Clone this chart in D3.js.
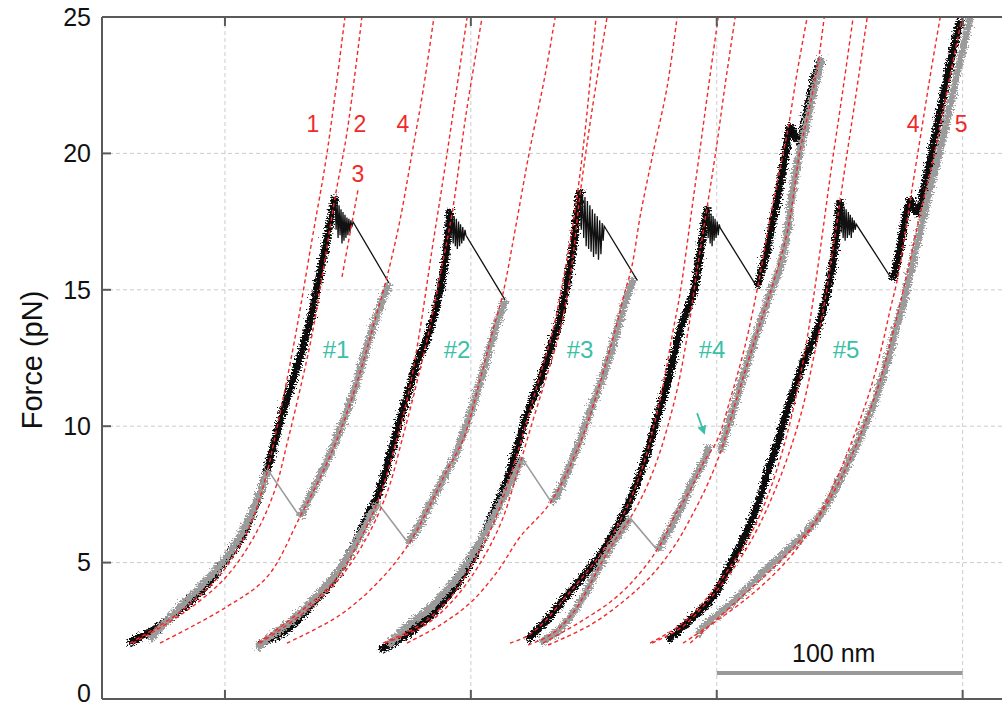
<!DOCTYPE html>
<html>
<head>
<meta charset="utf-8">
<script src="https://cdn.jsdelivr.net/npm/d3@7"></script>
<style>
  body { margin: 0; background: #fff; }
  text { font-family: "Liberation Sans", Arial, Helvetica, sans-serif; }
</style>
</head>
<body>
<script>
// axis ticks
const yTicks = [0, 5, 10, 15, 20, 25];
const xTicks = [0, 100, 200, 300];

// ---- cycle #1 (extension nm, force pN) ----
const pull1 = [[-39.5,2.05],[-30.5,2.46],[-20.3,3.12],[-10.2,3.92],[-1.2,4.88],[6.1,5.83],[11.8,6.93],[16.3,8.10],[19.9,9.31],[23.6,10.52],[27.7,11.69],[31.3,12.79],[34.6,13.89],[37.8,15.25],[41.1,16.72],[44.8,18.40]];
const rip1 = [[44.8,18.40],[45.2,17.2],[45.6,18.25],[46.0,16.9],[46.4,18.1],[46.8,17.0],[47.2,17.95],[47.6,16.7],[48.0,17.85],[48.4,16.8],[48.8,17.75],[49.2,16.9],[49.6,17.65],[50.0,17.0],[50.4,17.6],[50.8,17.1],[51.2,17.55],[51.6,17.3],[52.1,17.49],[66.7,15.25]];
const relax1 = [[66.7,15.25],[61.8,14.08],[57.4,12.79],[52.5,11.33],[46.8,9.86],[41.1,8.65],[35.8,7.66],[30.5,6.67]];
const jump1 = [[30.5,6.67],[17.5,8.39]];
const relax1b = [[17.5,8.39],[13.4,7.37],[8.5,6.38],[1.2,5.28],[-8.1,4.29],[-18.3,3.37],[-26.4,2.60],[-30.5,2.16]];
const wlc1 = [
  [[-38.6,2.05],[-18.3,3.19],[-2.0,4.55],[9.4,6.20],[16.3,8.03],[21.2,9.97],[25.6,11.88],[29.3,13.64],[35.4,16.83],[41.5,20.01],[48.8,25]],
  [[-37.4,2.05],[-16.3,3.19],[0.4,4.47],[12.2,6.01],[20.3,7.66],[25.6,9.49],[30.5,11.33],[35.4,13.34],[40.3,15.91],[44.8,18.40],[49.6,20.75],[55.7,25]],
  [[47.6,15.47],[54.1,18.66]],
  [[-26.4,2.05],[0,3.34],[17.1,4.47],[30.5,6.67],[41.5,8.65],[49.6,10.48],[56.1,12.32],[61.0,13.89],[65.9,15.47],[71.2,17.56],[76.1,20.01],[80.6,22.32],[85.0,25]]
];

// ---- cycle #2 ----
const pull2 = [[13.4,1.98],[25.2,2.53],[35.8,3.52],[43.9,4.36],[52.1,5.57],[57.8,6.67],[62.2,7.48],[66.3,8.65],[70.0,9.86],[74.0,11.07],[78.1,12.32],[83.4,13.53],[87.5,14.99],[89.9,16.35],[91.5,17.93]];
const rip2 = [[91.5,17.93],[91.9,16.9],[92.4,17.8],[92.8,16.7],[93.2,17.7],[93.7,16.6],[94.1,17.6],[94.5,16.5],[95.0,17.5],[95.4,16.6],[95.8,17.4],[96.3,16.7],[96.7,17.3],[97.1,16.8],[97.6,17.2],[98.0,17.0],[113.9,14.63]];
const relax2 = [[113.9,14.63],[109.8,13.53],[104.6,11.88],[98.9,10.23],[93.6,8.94],[87.5,7.84],[82.2,6.93],[78.5,6.27],[74.5,5.72]];
const jump2 = [[74.5,5.72],[62.2,7.18]];
const relax2b = [[62.2,7.18],[58.2,6.56],[52.9,5.65],[44.8,4.55],[35.8,3.63],[26.4,2.82],[18.3,2.27],[13.0,1.87]];
const wlc2 = [
  [[13.4,2.05],[30.5,3.19],[44.8,4.36],[54.9,5.83],[63.1,7.48],[69.2,9.31],[74.5,11.14],[79.3,13.53],[84.2,16.46],[89.5,19.50],[98.5,25]],
  [[14.2,2.05],[32.5,3.19],[46.8,4.44],[58.2,6.01],[66.3,7.66],[72.0,9.49],[77.3,11.33],[82.6,13.34],[87.5,15.54],[92.4,17.82],[98.0,21.41],[104.6,25]],
  [[25.2,2.05],[46.8,3.08],[63.1,4.36],[74.5,5.65],[83.4,7.11],[90.3,8.39],[96.8,9.49],[103.7,11.69],[109.0,13.53],[113.1,14.88],[118.0,17.19],[123.7,20.01],[130.2,22.87],[134.3,25]]
];

// ---- cycle #3 ----
const pull3 = [[63.1,1.80],[76.5,2.53],[90.3,3.74],[99.7,4.99],[107.8,6.56],[114.7,8.03],[118.8,9.24],[122.9,10.48],[128.2,11.69],[133.4,13.16],[136.3,13.97],[139.1,15.25],[141.6,16.57],[144.4,18.66]];
const rip3 = [[144.4,18.66],[144.9,17.2],[145.4,18.5],[145.9,16.9],[146.4,18.4],[146.9,16.6],[147.4,18.25],[147.9,16.5],[148.4,18.1],[148.9,16.4],[149.4,17.95],[149.9,16.2],[150.4,17.8],[150.9,16.3],[151.4,17.7],[151.9,16.1],[152.4,17.55],[152.9,16.3],[153.4,17.45],[153.8,16.8],[154.2,17.34],[167.6,15.36]];
const relax3 = [[166.4,15.43],[163.1,14.63],[159.5,13.53],[154.6,12.06],[149.7,10.85],[144.4,9.49],[139.5,8.39],[136.3,7.73],[133.0,7.18]];
const jump3 = [[133.0,7.18],[120.8,8.83]];
const relax3b = [[120.8,8.83],[116.8,8.03],[110.7,6.93],[102.9,5.65],[93.6,4.36],[83.4,3.34],[73.2,2.60],[66.3,1.98]];
const wlc3 = [
  [[64.3,2.05],[79.3,2.71],[91.5,3.70],[101.7,5.10],[109.8,6.56],[116.8,8.39],[122.9,10.23],[128.2,11.88],[133.4,13.53],[138.3,15.73],[142.4,17.93],[146.5,20.86],[150.9,25]],
  [[65.1,2.05],[81.4,2.71],[93.6,3.70],[104.6,5.10],[112.7,6.56],[119.2,8.39],[125.3,10.23],[131.0,11.88],[136.3,13.53],[140.8,15.73],[144.4,18.48],[149.3,21.59],[155.4,25]],
  [[74.0,2.05],[87.5,2.71],[99.7,3.52],[110.7,4.66],[120.0,5.94],[132.2,7.18],[144.4,9.38],[151.7,11.33],[158.7,13.53],[162.3,14.81],[165.6,15.91],[168.8,17.67],[174.1,20.01],[179.8,22.43],[183.9,25]]
];

// ---- cycle #4 ----
const pull4 = [[122.9,2.16],[130.2,2.82],[137.5,3.63],[144.4,4.36],[152.6,5.28],[158.7,6.20],[164.8,7.29],[170.1,8.58],[174.9,10.04],[180.2,11.69],[185.1,13.53],[190.4,14.88],[193.2,16.35],[196.1,18.04]];
const rip4 = [[196.1,18.04],[196.5,16.9],[196.9,17.9],[197.3,16.7],[197.7,17.8],[198.1,16.6],[198.5,17.7],[198.9,16.8],[199.3,17.6],[199.7,16.9],[200.2,17.5],[200.6,17.0],[201.0,17.4],[201.4,17.27],[216.4,15.10]];
const pull4b = [[216.4,15.10],[218.5,15.80],[220.5,16.46],[222.5,17.38],[224.6,18.29],[226.2,19.10],[227.8,19.87],[229.9,20.97],[231.9,20.60],[233.9,20.42],[235.6,21.15],[237.2,21.85],[239.2,22.58],[241.3,23.20],[242.9,23.50]];
const relax4 = [[242.9,23.50],[239.2,22.21],[236.8,21.22],[233.9,20.12],[231.1,18.77],[228.6,17.08],[225.8,15.84],[221.7,14.88],[216.8,13.53],[212.4,12.32],[208.3,11.07],[204.2,9.86],[201.4,9.05]];
const relax4b = [[196.9,9.31],[194.5,8.65],[190.4,8.03],[186.3,7.18],[182.3,6.45],[175.8,5.46]];
const jump4 = [[175.8,5.46],[164.8,6.63]];
const relax4c = [[164.8,6.63],[158.7,5.83],[152.6,4.91],[147.7,4.07],[142.4,3.26],[135.1,2.46],[128.2,2.09]];
const wlc4 = [
  [[115.9,2.05],[122.9,2.31],[130.2,2.86],[137.5,3.63],[144.4,4.36],[152.6,5.28],[158.7,6.20],[164.8,7.29],[170.1,8.58],[174.5,10.04],[178.6,11.69],[181.9,13.34],[185.1,14.88],[190.0,18.04],[193.7,20.49],[197.3,22.87],[200.6,25]],
  [[123.3,1.98],[130.2,2.24],[135.1,2.53],[142.4,3.26],[147.7,4.07],[152.6,4.91],[158.7,5.83],[164.8,6.63],[170.9,7.66],[175.8,8.76],[180.2,10.04],[184.3,11.51],[188.4,13.53],[192.0,15.73],[196.1,18.04],[199.7,20.12],[203.4,22.51],[207.5,25]],
  [[129.4,2.05],[144.4,2.82],[158.7,3.70],[168.8,4.62],[177.0,5.65],[183.1,6.74],[189.2,7.66],[194.5,8.65],[200.2,9.49],[205.4,10.96],[211.6,12.98],[216.4,14.99],[222.5,18.00],[229.1,20.97],[232.7,22.98],[236.8,25]],
  [[131.4,1.98],[148.5,2.71],[162.7,3.63],[173.7,4.55],[183.1,5.65],[190.0,6.74],[196.1,7.84],[201.4,9.02],[208.3,11.07],[216.8,13.53],[221.7,14.88],[228.6,17.08],[233.9,20.12],[236.8,21.30],[239.6,22.51],[241.7,23.61],[243.7,25]]
];

// ---- cycle #5 ----
const pull5 = [[180.2,2.16],[189.2,2.90],[198.5,3.74],[205.4,4.91],[211.6,6.01],[216.8,7.18],[220.9,8.39],[225.0,9.49],[229.9,10.96],[235.2,12.32],[240.8,13.53],[244.9,14.88],[247.8,16.35],[250.2,18.29]];
const rip5 = [[250.2,18.29],[250.6,17.1],[251.0,18.15],[251.4,16.9],[251.8,18.05],[252.2,16.8],[252.6,17.95],[253.1,16.9],[253.5,17.85],[253.9,17.0],[254.3,17.75],[254.7,16.9],[255.1,17.65],[255.5,17.1],[255.9,17.55],[256.3,17.2],[256.7,17.41],[271.4,15.36]];
const pull5b = [[271.4,15.36],[273.4,16.02],[275.8,17.19],[278.7,18.29],[280.3,17.93],[281.9,17.82],[283.6,18.48],[285.6,19.21],[287.6,20.12],[289.7,21.04],[291.7,21.96],[294.1,22.98],[296.6,23.97],[299.0,24.89]];
const relax5 = [[303.1,25],[299.0,23.42],[294.9,21.77],[291.3,20.31],[287.6,19.02],[284.4,17.82],[280.3,16.28],[276.7,14.81],[272.2,13.34],[266.5,11.51],[259.2,9.79],[251.0,8.21],[242.1,6.74],[231.1,5.65],[223.0,4.99],[213.6,4.18],[204.2,3.37],[195.3,2.71],[192.0,2.35]];
const wlc5 = [
  [[172.9,2.05],[185.1,2.71],[195.3,3.63],[204.6,4.73],[213.6,6.01],[220.9,7.48],[226.6,9.05],[231.5,10.78],[235.6,12.61],[239.2,14.63],[242.9,17.01],[246.5,19.39],[251.0,22.14],[255.5,25]],
  [[173.7,2.05],[185.9,2.64],[196.1,3.56],[205.9,4.66],[214.8,5.94],[222.5,7.40],[229.1,8.94],[234.7,10.59],[239.2,12.43],[243.3,14.26],[246.9,16.28],[250.2,18.29],[252.6,19.76],[256.3,21.96],[261.2,25]],
  [[186.3,2.05],[202.2,3.01],[216.4,4.00],[229.9,5.21],[240.0,6.49],[249.4,8.21],[256.7,9.86],[262.4,11.33],[267.3,12.98],[270.5,14.26],[273.4,15.36],[276.2,16.83],[278.7,18.29],[283.6,21.04],[287.2,23.06],[290.9,25]],
  [[189.2,2.05],[204.2,3.26],[216.8,4.29],[229.1,5.35],[240.0,6.49],[250.2,8.03],[259.2,9.86],[266.5,11.69],[271.4,13.34],[275.4,14.81],[279.1,16.28],[282.8,17.82],[286.0,19.02],[289.3,20.31],[292.5,21.77],[296.2,23.42],[299.8,25]]
];

// annotations
const curveLabels = ["1", "2", "4", "3", "4", "5"];
const curveLabelX = [35.8, 54.9, 72.4, 54.1, 279.9, 299.4];
const curveLabelF = [20.78, 20.78, 20.78, 18.95, 20.78, 20.78];
const cycleLabels = ["#1", "#2", "#3", "#4", "#5"];
const cycleLabelX = [45.2, 94.4, 144.4, 198.1, 252.6];
const cycleLabelF = 12.5;
const arrowPts = [[192.0,10.48],[194.9,9.75]];
const scaleBar = [200, 300];
const scaleBarF = 0.95;

const margin = {top: 17, left: 102, right: 0, bottom: 12};
const width = 900;
const height = 682;

const svg = d3.select('body').append('svg')
    .attr('width', 1002)
    .attr('height', 711);

const defs = svg.append('defs');
defs.append('clipPath').attr('id', 'plotclip')
    .append('rect').attr('x', 0).attr('y', 0).attr('width', width).attr('height', height);

// jagged look of the measured traces: a soft wobble for the band, a stronger one for spikes
function makeJitter(id, freq, scale, seed) {
    const f = defs.append('filter').attr('id', id)
        .attr('filterUnits', 'userSpaceOnUse')
        .attr('x', -30).attr('y', -30).attr('width', 960).attr('height', 740);
    f.append('feTurbulence').attr('type', 'fractalNoise')
        .attr('baseFrequency', freq).attr('numOctaves', 2).attr('seed', seed).attr('result', 'noise');
    f.append('feDisplacementMap').attr('in', 'SourceGraphic').attr('in2', 'noise')
        .attr('scale', scale).attr('xChannelSelector', 'R').attr('yChannelSelector', 'G');
}
makeJitter('band', '0.35 0.8', 9, 7);
makeJitter('spike', '0.9 0.6', 18, 11);

defs.append('marker').attr('id', 'arrowhead')
    .attr('viewBox', '0 0 10 10').attr('refX', 8).attr('refY', 5)
    .attr('markerWidth', 5).attr('markerHeight', 5).attr('orient', 'auto')
    .append('path').attr('d', 'M0,0 L10,5 L0,10 z').attr('fill', '#3bbfa6');

const x = d3.scaleLinear().domain([-50, 316]).range([0, width]);
const y = d3.scaleLinear().domain([0, 25]).range([height, 0]);

const chart = svg.append('g')
    .attr('transform', 'translate(' + margin.left + ',' + margin.top + ')');

// grid
chart.append('g').selectAll('line')
    .data(yTicks.filter(d => d > 0 && d < 25))
    .enter().append('line')
    .attr('x1', 0).attr('x2', width)
    .attr('y1', d => y(d)).attr('y2', d => y(d))
    .attr('stroke', '#cccccc').attr('stroke-width', 1).attr('stroke-dasharray', '4,3');
chart.append('g').selectAll('line')
    .data(xTicks)
    .enter().append('line')
    .attr('x1', d => x(d)).attr('x2', d => x(d))
    .attr('y1', 0).attr('y2', height)
    .attr('stroke', '#cccccc').attr('stroke-width', 1).attr('stroke-dasharray', '4,3');

const line = d3.line()
    .x(d => x(d[0]))
    .y(d => y(d[1]))
    .curve(d3.curveCatmullRom);
const straight = d3.line()
    .x(d => x(d[0]))
    .y(d => y(d[1]));

const plot = chart.append('g').attr('clip-path', 'url(#plotclip)');

function drawTraces(data, color) {
    plot.append('g').attr('filter', 'url(#band)')
        .selectAll('path').data(data).enter().append('path')
        .attr('d', line)
        .attr('fill', 'none').attr('stroke', color)
        .attr('stroke-width', 7).attr('stroke-linejoin', 'round');
    plot.append('g').attr('filter', 'url(#spike)')
        .selectAll('path').data(data).enter().append('path')
        .attr('d', line)
        .attr('fill', 'none').attr('stroke', color)
        .attr('stroke-width', 2.4).attr('stroke-linejoin', 'round');
}

// black pulling traces, then gray relaxing traces
const blackTraces = [pull1, pull2, pull3, pull4, pull4b, pull5, pull5b];
const grayTraces = [relax1, relax1b, relax2, relax2b, relax3, relax3b, relax4, relax4b, relax4c, relax5];
drawTraces(blackTraces, '#0c0c0c');
drawTraces(grayTraces, '#9b9b9b');

// unfolding rips (thin black) and refolding jumps (thin gray)
plot.append('g').selectAll('path')
    .data([rip1, rip2, rip3, rip4, rip5]).enter().append('path')
    .attr('d', straight)
    .attr('fill', 'none').attr('stroke', '#111').attr('stroke-width', 1.3);
plot.append('g').selectAll('path')
    .data([jump1, jump2, jump3, jump4]).enter().append('path')
    .attr('d', straight)
    .attr('fill', 'none').attr('stroke', '#9b9b9b').attr('stroke-width', 1.6);

// WLC fits
const wlcCurves = [].concat(wlc1, wlc2, wlc3, wlc4, wlc5);
plot.append('g').selectAll('path')
    .data(wlcCurves).enter().append('path')
    .attr('d', line)
    .attr('fill', 'none').attr('stroke', '#f02a2a')
    .attr('stroke-width', 1.4).attr('stroke-dasharray', '4,3');

// axes frame
const axisColor = '#5a5a5a';
chart.append('line').attr('x1', 0).attr('x2', 0).attr('y1', 0).attr('y2', height)
    .attr('stroke', axisColor).attr('stroke-width', 2);
chart.append('line').attr('x1', 0).attr('x2', width).attr('y1', 0).attr('y2', 0)
    .attr('stroke', axisColor).attr('stroke-width', 2);
chart.append('line').attr('x1', 0).attr('x2', width).attr('y1', height).attr('y2', height)
    .attr('stroke', axisColor).attr('stroke-width', 2);

// inward ticks
chart.append('g').selectAll('line').data(yTicks).enter().append('line')
    .attr('x1', 0).attr('x2', 9).attr('y1', d => y(d)).attr('y2', d => y(d))
    .attr('stroke', axisColor).attr('stroke-width', 2);
chart.append('g').selectAll('line').data(xTicks).enter().append('line')
    .attr('x1', d => x(d)).attr('x2', d => x(d)).attr('y1', height).attr('y2', height - 9)
    .attr('stroke', axisColor).attr('stroke-width', 2);
chart.append('g').selectAll('line').data(xTicks).enter().append('line')
    .attr('x1', d => x(d)).attr('x2', d => x(d)).attr('y1', 0).attr('y2', 9)
    .attr('stroke', axisColor).attr('stroke-width', 2);

// y tick labels
chart.append('g').selectAll('text').data(yTicks).enter().append('text')
    .attr('x', -11).attr('y', d => y(d)).attr('dy', d => d === 0 ? '0.12em' : '0.35em')
    .attr('text-anchor', 'end')
    .style('font-size', '25px').attr('fill', '#111')
    .text(d => d);

// y axis title
svg.append('text')
    .attr('transform', 'translate(42,360) rotate(-90)')
    .attr('text-anchor', 'middle')
    .style('font-size', '29px').attr('fill', '#111')
    .text('Force (pN)');

// red curve numbers
chart.append('g').selectAll('text').data(curveLabels).enter().append('text')
    .attr('x', (d, i) => x(curveLabelX[i]))
    .attr('y', (d, i) => y(curveLabelF[i]))
    .attr('text-anchor', 'middle')
    .style('font-size', '23px').attr('fill', '#ee2a2a')
    .text(d => d);

// cycle labels
chart.append('g').selectAll('text').data(cycleLabels).enter().append('text')
    .attr('x', (d, i) => x(cycleLabelX[i]))
    .attr('y', y(cycleLabelF))
    .attr('text-anchor', 'middle')
    .style('font-size', '24px').attr('fill', '#3bbfa6')
    .text(d => d);

// arrow
chart.append('path')
    .attr('d', straight(arrowPts))
    .attr('stroke', '#3bbfa6').attr('stroke-width', 1.8)
    .attr('marker-end', 'url(#arrowhead)');

// scale bar
chart.append('line')
    .attr('x1', x(scaleBar[0])).attr('x2', x(scaleBar[1]))
    .attr('y1', y(scaleBarF)).attr('y2', y(scaleBarF))
    .attr('stroke', '#999').attr('stroke-width', 4);
chart.append('text')
    .attr('x', x((scaleBar[0] + scaleBar[1]) / 2) - 6)
    .attr('y', y(scaleBarF) - 11)
    .attr('text-anchor', 'middle')
    .style('font-size', '25px').attr('fill', '#111')
    .text((scaleBar[1] - scaleBar[0]) + ' nm');
</script>
</body>
</html>
